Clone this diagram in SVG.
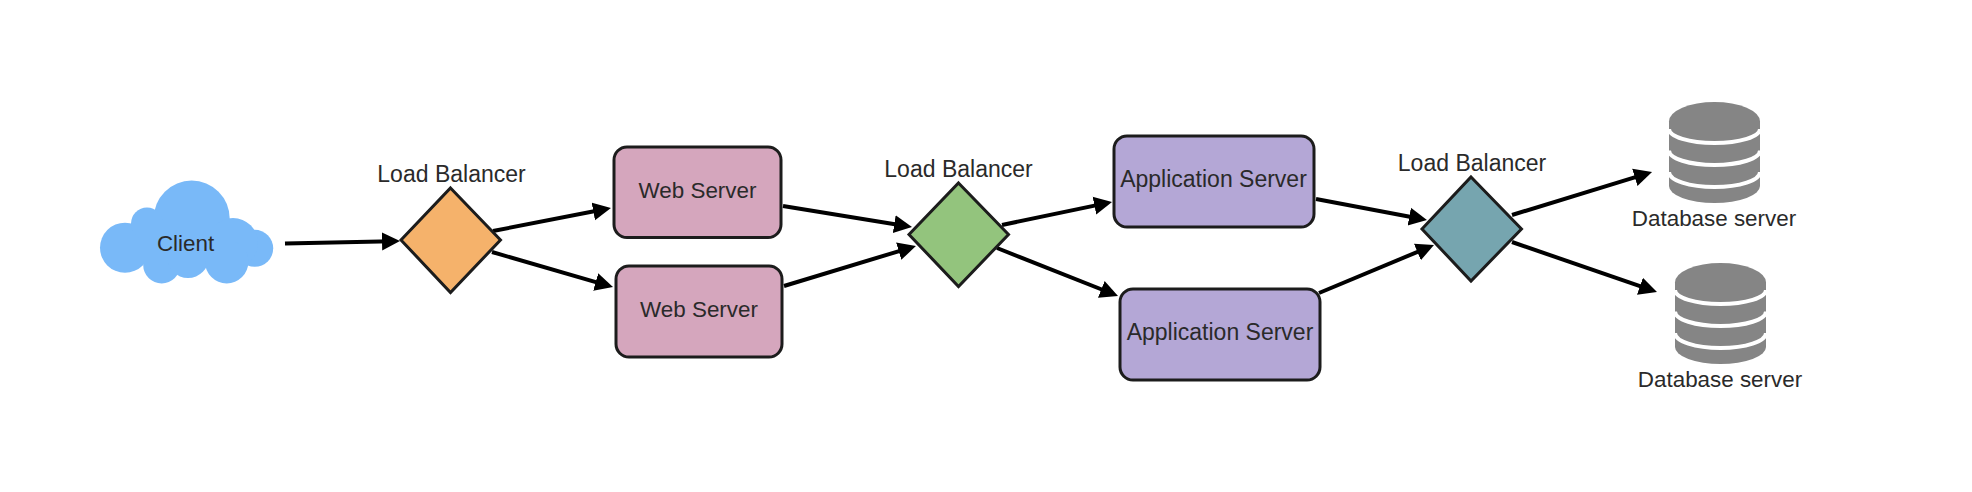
<svg xmlns="http://www.w3.org/2000/svg" width="1972" height="492" viewBox="0 0 1972 492">
<style>
text{font-family:"Liberation Sans",Arial,sans-serif;font-size:22.4px;fill:#2a2a2a;text-anchor:middle}
.wide{font-size:23px}
.box{stroke:#1c1c1c;stroke-width:3}
.dia{stroke:#1c1c1c;stroke-width:3;stroke-linejoin:miter}
.web{fill:#d5a6bd}
.app{fill:#b4a7d6}
.edge{stroke:#000;stroke-width:4;fill:none;marker-end:url(#arrow)}
.cloud{fill:#79b9f8}
</style>
<defs>
<marker id="arrow" markerUnits="userSpaceOnUse" markerWidth="22" markerHeight="22" refX="10" refY="10" orient="auto">
<path d="M0 1L18 10L0 19Z" fill="#000"/>
</marker>
<g id="cylinder">
<path d="M0 19.5A45.5 19.5 0 0 1 91 19.5V84A45.5 17 0 0 1 0 84Z" fill="#858585"/>
<path d="M0 27A45.5 14 0 0 0 91 27M0 48.5A45.5 14.5 0 0 0 91 48.5M0 70A45.5 15 0 0 0 91 70" fill="none" stroke="#fff" stroke-width="4"/>
</g>
</defs>
<rect width="1972" height="492" fill="#fff"/>
<g id="connectors">
<path class="edge" d="M285 243.5L392 241.2"/>
<path class="edge" d="M493 231L603.1 209.5"/>
<path class="edge" d="M492 252L605.3 284.8"/>
<path class="edge" d="M783 206L904.1 225.7"/>
<path class="edge" d="M784 286L908.3 248.3"/>
<path class="edge" d="M1002 225L1104.2 203.6"/>
<path class="edge" d="M997 248L1110.6 293"/>
<path class="edge" d="M1316 199L1419.1 218.5"/>
<path class="edge" d="M1319 293L1426.6 248.1"/>
<path class="edge" d="M1512 215L1644.4 174.4"/>
<path class="edge" d="M1512 242L1649.4 289.4"/>
</g>
<g id="client">
<g class="cloud">
<circle cx="191.7" cy="218.5" r="38"/>
<circle cx="125" cy="247.7" r="25"/>
<circle cx="147" cy="223.5" r="16"/>
<circle cx="254.7" cy="248.3" r="18.5"/>
<circle cx="233" cy="243" r="25"/>
<circle cx="161.7" cy="265" r="18.5"/>
<circle cx="188" cy="257" r="21"/>
<circle cx="226.7" cy="261.7" r="21.7"/>
<rect x="140" y="225" width="95" height="35"/>
</g>
<text x="185.5" y="251">Client</text>
</g>
<g id="lb1">
<path class="dia" d="M450.5 188L500.5 240L450.5 292.5L401 240Z" fill="#f5b26b"/>
<text class="wide" x="451.5" y="182">Load Balancer</text>
</g>
<g id="web1">
<rect class="box web" x="614" y="147" width="167" height="90.5" rx="13"/>
<text x="697.5" y="198">Web Server</text>
</g>
<g id="web2">
<rect class="box web" x="616" y="266" width="166" height="91" rx="13"/>
<text x="699" y="317">Web Server</text>
</g>
<g id="lb2">
<path class="dia" d="M958.5 183L1008.5 234.5L958.5 286.5L909 234.5Z" fill="#93c47d"/>
<text class="wide" x="958.5" y="177">Load Balancer</text>
</g>
<g id="app1">
<rect class="box app" x="1114" y="136" width="200" height="91" rx="13"/>
<text class="wide" x="1213.5" y="187">Application Server</text>
</g>
<g id="app2">
<rect class="box app" x="1120" y="289" width="200" height="91" rx="13"/>
<text class="wide" x="1220" y="340">Application Server</text>
</g>
<g id="lb3">
<path class="dia" d="M1471 177L1521.5 229L1471 281L1422 229Z" fill="#76a5af"/>
<text class="wide" x="1472" y="171">Load Balancer</text>
</g>
<g id="db1">
<use href="#cylinder" x="1669" y="102"/>
<text x="1714" y="226">Database server</text>
</g>
<g id="db2">
<use href="#cylinder" x="1675" y="263"/>
<text x="1720" y="387">Database server</text>
</g>
</svg>
